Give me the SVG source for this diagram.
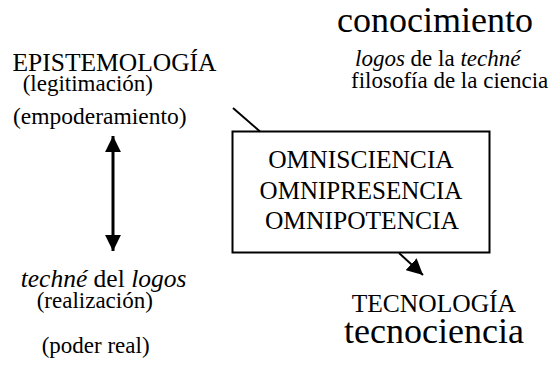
<svg xmlns="http://www.w3.org/2000/svg" width="556" height="365" viewBox="0 0 556 365">
<style>
.ln{stroke:#000;fill:none}
</style>
<defs>
<marker id="ah" viewBox="0 0 10 10" refX="10" refY="5" markerWidth="5.3" markerHeight="5.3" markerUnits="strokeWidth" orient="auto-start-reverse">
<path d="M0,0 L10,5 L0,10 z" fill="#000"/>
</marker>
<marker id="ah2" viewBox="0 0 10 10" refX="10" refY="5" markerWidth="8" markerHeight="8" markerUnits="strokeWidth" orient="auto">
<path d="M0,0 L10,5 L0,10 z" fill="#000"/>
</marker>
</defs>
<rect width="556" height="365" fill="#fff"/>
<g id="conocimiento">
<text x="337" y="32" font-size="36" font-family="Liberation Serif">conocimiento</text>
<text x="355" y="66" font-size="23" font-family="Liberation Serif"><tspan font-style="italic">logos</tspan> de la <tspan font-style="italic">techné</tspan></text>
<text x="351" y="88" font-size="23" font-family="Liberation Serif">filosofía de la ciencia</text>
</g>
<g id="epistemologia">
<text x="12.5" y="71" font-size="25.5" font-family="Liberation Serif">EPISTEMOLOGÍA</text>
<text x="22.7" y="91" font-size="23" font-family="Liberation Serif">(legitimación)</text>
<text x="13" y="124" font-size="23.5" font-family="Liberation Serif">(empoderamiento)</text>
</g>
<g id="techne">
<text x="20.7" y="287" font-size="25.5" font-family="Liberation Serif"><tspan font-style="italic">techné</tspan> del <tspan font-style="italic">logos</tspan></text>
<text x="36.7" y="308" font-size="23" font-family="Liberation Serif">(realización)</text>
<text x="41.7" y="353" font-size="23" font-family="Liberation Serif">(poder real)</text>
</g>
<g id="omni">
<rect x="232.5" y="131.5" width="257" height="121" fill="#fff" stroke="#000" stroke-width="2"/>
<text x="361" y="168" font-size="25.5" font-family="Liberation Serif" text-anchor="middle">OMNISCIENCIA</text>
<text x="361" y="198.5" font-size="25" font-family="Liberation Serif" text-anchor="middle">OMNIPRESENCIA</text>
<text x="362" y="229" font-size="25.5" font-family="Liberation Serif" text-anchor="middle">OMNIPOTENCIA</text>
</g>
<g id="tecnologia">
<text x="351.7" y="312" font-size="25.5" font-family="Liberation Serif">TECNOLOGÍA</text>
<text x="344" y="343" font-size="36" font-family="Liberation Serif">tecnociencia</text>
</g>
<g id="connectors">
<line class="ln" x1="113" y1="136" x2="113" y2="251" stroke-width="3" marker-start="url(#ah)" marker-end="url(#ah)"/>
<line class="ln" x1="233" y1="108" x2="260" y2="131.5" stroke-width="2"/>
<line class="ln" x1="399" y1="253" x2="423" y2="275" stroke-width="2" marker-end="url(#ah2)"/>
</g>
</svg>
